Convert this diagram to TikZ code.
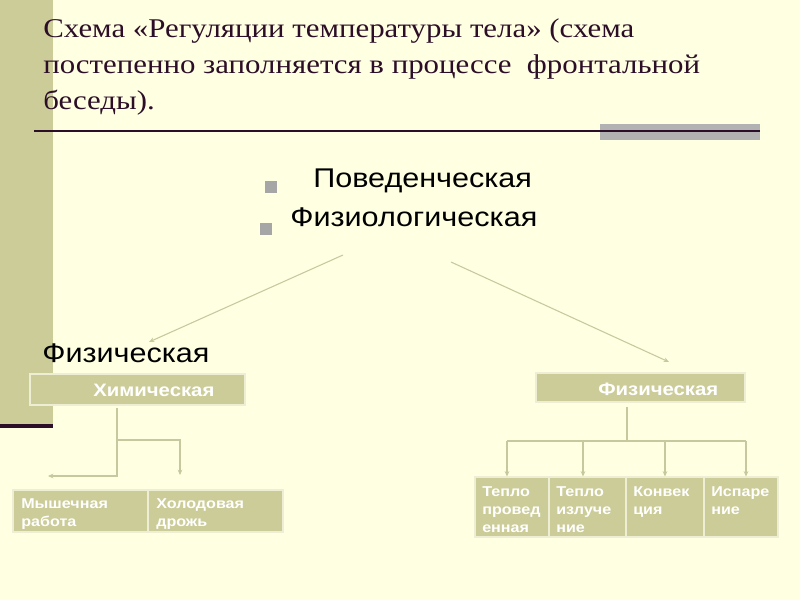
\documentclass[tikz,border=0pt]{standalone}
\usepackage{fontspec}
\setmainfont{Liberation Serif}[FakeStretch=1.14]
\newfontfamily\arialx{Liberation Sans}[FakeStretch=1.13]
\usetikzlibrary{arrows.meta,fit}
\definecolor{bgc}{RGB}{255,255,225}
\definecolor{olive}{RGB}{204,204,153}
\definecolor{plum}{RGB}{45,14,40}
\definecolor{rulegray}{RGB}{178,178,178}
\definecolor{conc}{RGB}{200,200,158}
\definecolor{edgec}{RGB}{238,238,212}
\definecolor{bulc}{RGB}{166,166,166}
\tikzset{
  titletxt/.style={anchor=base west, inner sep=0pt, text=plum, font=\fontsize{20.3}{24}\selectfont},
  bigsans/.style={anchor=base west, inner sep=0pt, text=black, font=\arialx\fontsize{20.3}{24}\selectfont},
  box/.style={fill=olive, draw=edgec, line width=0.8pt, inner sep=0pt},
  boxtxt/.style={anchor=base west, inner sep=0pt, text=white, font=\arialx\bfseries\fontsize{13.5}{16}\selectfont},
  smalltxt/.style={anchor=base west, inner sep=0pt, text=white, align=left, font=\arialx\bfseries\fontsize{10.7}{13.5}\selectfont},
  bul/.style={fill=bulc, inner sep=0pt, minimum size=8.3pt},
  conn/.style={draw=conc, line width=0.9pt},
  tip/.style={-{Stealth[length=4pt,width=3.5pt]}},
}
\begin{document}
\begin{tikzpicture}[x=0.75pt,y=-0.75pt]
\useasboundingbox (0,0) rectangle (800,600);
\fill[bgc] (0,0) rectangle (800,600);
% sidebar
\fill[olive] (0,0) rectangle (53,424);
\fill[plum] (0,424) rectangle (53,427.5);
% header rule
\fill[rulegray] (600,123.5) rectangle (760,140);
\draw[plum, line width=1.6pt] (34,130.7) -- (760,130.7);
% title
\node[titletxt] (t1) at (43,37) {Схема «Регуляции температуры тела» (схема};
\node[titletxt] (t2) at (43,73) {постепенно заполняется в процессе\ \ фронтальной};
\node[titletxt] (t3) at (43,109) {беседы).};
% bullets
\node[bul] (b1) at (271,187) {};
\node[bigsans] (p1) at (313,187) {Поведенческая};
\node[bul] (b2) at (266,229) {};
\node[bigsans] (p2) at (290,226) {Физиологическая};
\node[bigsans] (fz) at (42,362) {Физическая};
% diagonal connectors
\coordinate (dl1) at (343,255);
\coordinate (dl2) at (149,342);
\coordinate (dr1) at (451,262);
\coordinate (dr2) at (669,362);
\draw[conn, line width=0.8pt, tip] (dl1) -- (dl2);
\draw[conn, line width=0.8pt, tip] (dr1) -- (dr2);
% left tree
\node[box, fit={(30,374) (245,405)}] (chem) {};
\node[boxtxt] (chemT) at (93,396) {Химическая};
\node[box, fit={(13,490) (148,532)}] (mus) {};
\node[box, fit={(148,490) (283,532)}] (cold) {};
\node[smalltxt] (musT) at (21,526) {Мышечная\\работа};
\node[smalltxt] (coldT) at (156,526) {Холодовая\\дрожь};
\coordinate (lt) at (117,408);
\coordinate (lj) at (117,440);
\coordinate (lc) at (117,476);
\coordinate (la) at (48,476);
\coordinate (lr) at (180,440);
\coordinate (lra) at (180,475);
\draw[conn, tip] (lt) -- (lc) -- (la);
\draw[conn, tip] (lj) -- (lr) -- (lra);
% right tree
\node[box, fit={(536,373) (745,402)}] (phys) {};
\node[boxtxt] (physT) at (598,395) {Физическая};
\node[box, fit={(475,477) (549,537)}] (r1) {};
\node[box, fit={(549,477) (626,537)}] (r2) {};
\node[box, fit={(626,477) (704,537)}] (r3) {};
\node[box, fit={(704,477) (778,537)}] (r4) {};
\node[smalltxt] (r1T) at (482,532) {Тепло\\провед\\енная};
\node[smalltxt] (r2T) at (556,532) {Тепло\\излуче\\ние};
\node[smalltxt] (r3T) at (633,514) {Конвек\\ция};
\node[smalltxt] (r4T) at (711,514) {Испаре\\ние};
\coordinate (rt) at (627,407);
\coordinate (rj) at (627,441);
\coordinate (h1) at (507,441);
\coordinate (h2) at (583,441);
\coordinate (h3) at (665,441);
\coordinate (h4) at (746,441);
\draw[conn] (rt) -- (rj);
\draw[conn] (h1) -- (h4);
\foreach \h/\b in {h1/r1,h2/r2,h3/r3,h4/r4}
  \draw[conn, tip] (\h) -- (\h |- \b.north);
\end{tikzpicture}
\end{document}
